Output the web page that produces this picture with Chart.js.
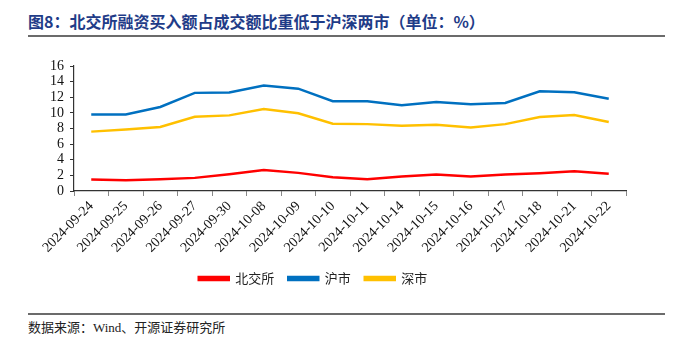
<!DOCTYPE html>
<html>
<head>
<meta charset="utf-8">
<script src="https://cdn.jsdelivr.net/npm/chart.js@4/dist/chart.umd.min.js"></script>
<style>
  body { margin: 0; width: 674px; height: 346px; background: #fff; position: relative; overflow: hidden; }
  #title { position: absolute; left: 28px; top: 9px; font-family: "Noto Sans CJK SC"; font-weight: bold; font-size: 16px; color: #1f3c88; white-space: nowrap; }
  .rule { position: absolute; left: 28px; width: 637px; height: 2px; background: #6b6b6b; }
  #source { position: absolute; left: 28px; top: 317px; font-family: "Liberation Serif", "Noto Sans CJK SC"; font-size: 13px; color: #222; }
  #wrap { position: absolute; left: 0; top: 40px; width: 674px; height: 255px; }
</style>
</head>
<body>
<div id="title">图8：北交所融资买入额占成交额比重低于沪深两市（单位：%）</div>
<div class="rule" style="top:35px"></div>
<div id="wrap"><canvas id="chart"></canvas></div>
<div class="rule" style="top:313px; height:1.5px"></div>
<div id="source">数据来源：Wind、开源证券研究所</div>
<script>
const dates = ['2024-09-24', '2024-09-25', '2024-09-26', '2024-09-27', '2024-09-30', '2024-10-08',
    '2024-10-09', '2024-10-10', '2024-10-11', '2024-10-14', '2024-10-15', '2024-10-16',
    '2024-10-17', '2024-10-18', '2024-10-21', '2024-10-22']
const bseShare = [1.46, 1.37, 1.5, 1.68, 2.15, 2.7, 2.32, 1.76, 1.5, 1.85, 2.1, 1.85, 2.1, 2.28, 2.54, 2.2]
const shShare = [9.8, 9.8, 10.75, 12.56, 12.6, 13.5, 13.1, 11.5, 11.5, 10.97, 11.4, 11.1, 11.27, 12.77, 12.65, 11.8]
const szShare = [7.6, 7.87, 8.2, 9.5, 9.68, 10.5, 9.94, 8.6, 8.56, 8.34, 8.47, 8.13, 8.56, 9.46, 9.72, 8.82]
const yTicks = [0, 2, 4, 6, 8, 10, 12, 14, 16]

const serif = 'Liberation Serif'
const cjk = 'Noto Sans CJK SC'

function series(label, data, color) {
    return {
        label: label,
        data: data,
        borderColor: color,
        backgroundColor: color,
        borderWidth: 2.5,
        pointRadius: 0,
        tension: 0,
        fill: false
    }
}

function drawChart() {
    new Chart(document.getElementById('chart'), {
        type: 'line',
        data: {
            labels: dates,
            datasets: [
                series('北交所', bseShare, '#ff0000'),
                series('沪市', shShare, '#0070c0'),
                series('深市', szShare, '#ffc000')
            ]
        },
        options: {
            responsive: true,
            maintainAspectRatio: false,
            animation: false,
            layout: { padding: { top: 26, right: 48, left: 0, bottom: 0 } },
            plugins: {
                tooltip: { enabled: false },
                legend: {
                    position: 'bottom',
                    labels: {
                        boxWidth: 30,
                        boxHeight: 3,
                        padding: 14,
                        color: '#222',
                        font: { family: cjk, size: 13 }
                    }
                }
            },
            scales: {
                x: {
                    offset: true,
                    grid: { display: true, drawOnChartArea: false, offset: true, tickLength: 5, color: '#888' },
                    border: { color: '#333', width: 1.2 },
                    ticks: {
                        minRotation: 45,
                        maxRotation: 45,
                        autoSkip: false,
                        color: '#111',
                        padding: 2,
                        font: { family: serif, size: 14 }
                    },
                    afterFit: function(scale) { scale.height = 67 }
                },
                y: {
                    min: 0,
                    max: 16,
                    afterBuildTicks: function(scale) { scale.ticks = yTicks.map(v => ({ value: v })) },
                    grid: { display: true, drawOnChartArea: false, tickLength: 4, color: '#333' },
                    border: { color: '#333', width: 1.2 },
                    ticks: { autoSkip: false, color: '#111', padding: 6, font: { family: serif, size: 14 } },
                    afterFit: function(scale) { scale.width = 74 }
                }
            }
        }
    });
}

document.fonts.load('14px "Liberation Serif"').then(drawChart, drawChart)
</script>
</body>
</html>
